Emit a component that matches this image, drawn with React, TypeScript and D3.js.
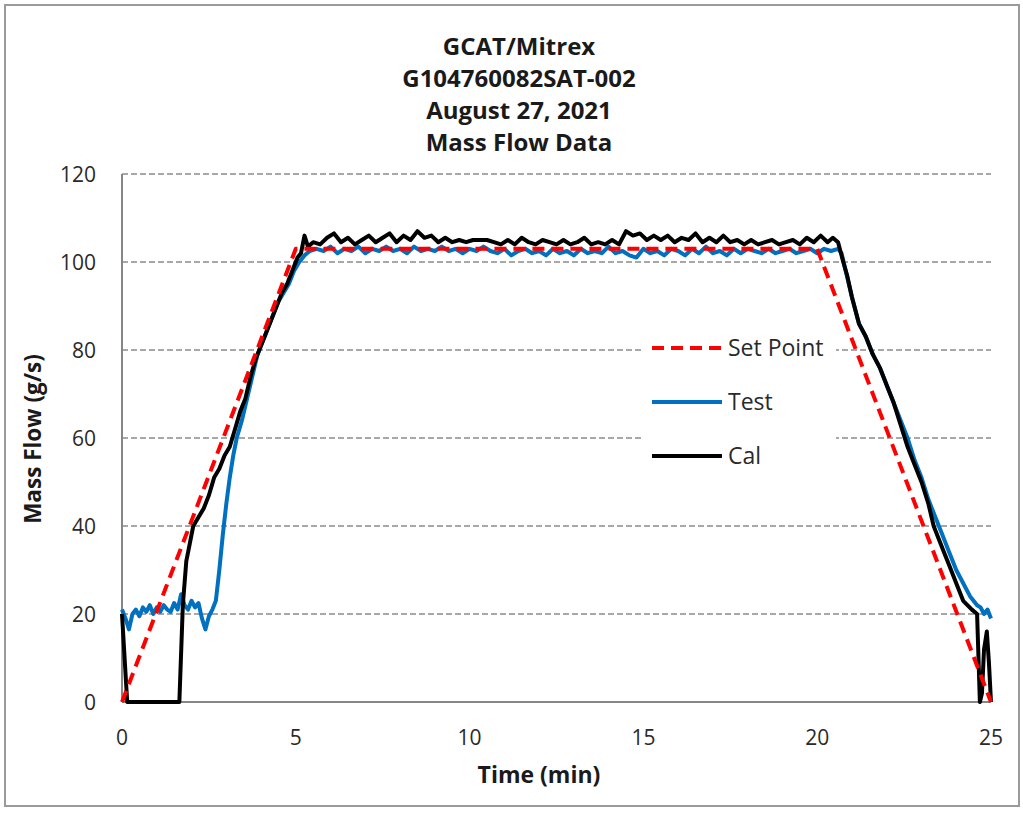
import React from "react";
import * as d3 from "d3";

const titleLines = ["GCAT/Mitrex", "G104760082SAT-002", "August 27, 2021", "Mass Flow Data"];
const xTicks = [0, 5, 10, 15, 20, 25];
const yTicks = [0, 20, 40, 60, 80, 100, 120];

const setPointData: [number, number][] = [[0, 0], [5, 103], [20, 103], [25, 0]];

const testData: [number, number][] = [
  [0, 21], [0.1, 19], [0.2, 16.5], [0.3, 20], [0.4, 21], [0.5, 19.5], [0.6, 21.5], [0.7, 20.5], [0.8, 22], [0.9, 20],
  [1.0, 21.5], [1.1, 20.5], [1.2, 22], [1.3, 21], [1.4, 20.5], [1.5, 22.5], [1.6, 21], [1.7, 24.5], [1.8, 22], [1.9, 21],
  [2.0, 23], [2.1, 21.5], [2.2, 22.5], [2.3, 19], [2.4, 16.5], [2.5, 19.5], [2.6, 21], [2.7, 23], [2.8, 30], [2.9, 38],
  [3.0, 45], [3.1, 51], [3.2, 56], [3.3, 60], [3.45, 64], [3.6, 69], [3.75, 74], [3.9, 79], [4.05, 82], [4.2, 85],
  [4.35, 88], [4.5, 91], [4.65, 93], [4.8, 95], [4.95, 98], [5.1, 100], [5.25, 101.5], [5.4, 102.5], [5.6, 103],
  [5.8, 102.5], [6.0, 103.5], [6.2, 102], [6.4, 103], [6.6, 102.5], [6.8, 103.5], [7.0, 102], [7.2, 103], [7.4, 102.5],
  [7.6, 103.5], [7.8, 102.5], [8.0, 103], [8.2, 102], [8.4, 103.5], [8.6, 102.5], [8.8, 103], [9.0, 102.5], [9.2, 103.5],
  [9.4, 102.5], [9.6, 103], [9.8, 102], [10.0, 103], [10.2, 102.5], [10.4, 103.5], [10.6, 102.5], [10.8, 102],
  [11.0, 103], [11.2, 101.5], [11.4, 102.5], [11.6, 103], [11.8, 102], [12.0, 102.5], [12.2, 101.5], [12.4, 103],
  [12.6, 102], [12.8, 102.5], [13.0, 101.5], [13.2, 103], [13.4, 102], [13.6, 102.5], [13.8, 102], [14.0, 103.5],
  [14.2, 102], [14.4, 102.5], [14.6, 101.5], [14.8, 101], [15.0, 103], [15.2, 102], [15.4, 102.5], [15.6, 101.5],
  [15.8, 103], [16.0, 102.5], [16.2, 101.5], [16.4, 103], [16.6, 102], [16.8, 103.5], [17.0, 102], [17.2, 102.5],
  [17.4, 101.5], [17.6, 103], [17.8, 102], [18.0, 103], [18.2, 102.5], [18.4, 102], [18.6, 103], [18.8, 102],
  [19.0, 102.5], [19.2, 103], [19.4, 102], [19.6, 102.5], [19.8, 103], [20.0, 102], [20.2, 103], [20.4, 102.5],
  [20.6, 103], [20.7, 102], [20.85, 97], [21.0, 92], [21.2, 86], [21.4, 83], [21.6, 79], [21.8, 76], [22.0, 72],
  [22.2, 68], [22.4, 64], [22.6, 60], [22.8, 55], [23.0, 51], [23.2, 46], [23.4, 42], [23.6, 38], [23.8, 34],
  [24.0, 30], [24.2, 27], [24.4, 24], [24.6, 22], [24.7, 21.5], [24.8, 20], [24.9, 21], [25.0, 19],
];

const calData: [number, number][] = [
  [0, 20], [0.15, 0], [1.65, 0], [1.75, 22], [1.85, 32], [1.95, 36], [2.05, 40], [2.2, 42], [2.35, 44], [2.5, 47],
  [2.65, 51], [2.8, 53], [2.95, 56], [3.1, 58], [3.25, 62], [3.4, 66], [3.55, 69], [3.7, 74], [3.85, 78], [4.0, 81],
  [4.15, 84], [4.3, 87], [4.45, 90], [4.6, 93], [4.75, 95], [4.9, 98], [5.05, 101], [5.15, 102], [5.25, 106],
  [5.35, 103.5], [5.5, 104.5], [5.7, 104], [5.9, 105.5], [6.1, 106.5], [6.3, 104.5], [6.5, 105.5], [6.7, 104],
  [6.9, 105], [7.1, 106], [7.3, 104.5], [7.5, 105.5], [7.7, 106.5], [7.9, 104.5], [8.1, 106], [8.3, 105], [8.5, 107],
  [8.7, 105.5], [8.9, 106], [9.1, 104.5], [9.3, 105.5], [9.5, 104.5], [9.7, 105], [9.9, 104.5], [10.1, 105],
  [10.3, 105], [10.5, 105], [10.7, 104.5], [10.9, 104], [11.1, 105], [11.3, 104], [11.5, 105.5], [11.7, 104.5],
  [11.9, 104], [12.1, 105], [12.3, 104.5], [12.5, 104], [12.7, 105], [12.9, 104], [13.1, 104.5], [13.3, 105.5],
  [13.5, 104], [13.7, 104.5], [13.9, 104], [14.1, 105], [14.3, 104], [14.5, 107], [14.7, 106], [14.9, 106.5],
  [15.1, 105], [15.3, 106], [15.5, 105], [15.7, 106], [15.9, 104.5], [16.1, 105.5], [16.3, 105], [16.5, 106.5],
  [16.7, 104.5], [16.9, 105.5], [17.1, 104.5], [17.3, 106], [17.5, 104.5], [17.7, 105], [17.9, 104], [18.1, 105],
  [18.3, 104], [18.5, 104.5], [18.7, 105], [18.9, 104], [19.1, 104.5], [19.3, 105], [19.5, 104], [19.7, 105.5],
  [19.9, 104.5], [20.1, 106], [20.3, 104.5], [20.45, 105.5], [20.6, 104.5], [20.75, 100], [20.86, 97], [21.0, 92],
  [21.2, 86], [21.4, 83], [21.6, 79], [21.8, 76], [22.0, 72], [22.2, 68], [22.4, 63], [22.6, 58], [22.8, 54],
  [23.0, 50], [23.2, 45], [23.35, 40], [23.5, 37], [23.65, 34], [23.8, 31], [24.0, 27], [24.2, 23], [24.45, 21],
  [24.6, 20], [24.68, 0], [24.74, 2], [24.8, 12], [24.88, 16], [24.94, 9], [25.0, 0],
];

const legendItems = [
  { label: "Set Point", color: "#FF0000", dash: "12,7", data: setPointData },
  { label: "Test", color: "#0070C0", dash: "", data: testData },
  { label: "Cal", color: "#000000", dash: "", data: calData },
];

const W = 1023;
const H = 813;
const left = 122, right = 991, top = 174, bottom = 702;
const FONT = "'Open Sans', 'Noto Sans', sans-serif";

export default function App() {
  const x = d3.scaleLinear().domain([0, 25]).range([left, right]);
  const y = d3.scaleLinear().domain([0, 120]).range([bottom, top]);
  const line = d3.line<[number, number]>().x((d) => x(d[0])).y((d) => y(d[1]));
  const drawOrder = [legendItems[1], legendItems[2], legendItems[0]];
  return (
    <svg width={W} height={H} style={{ position: "absolute", left: 0, top: 0, background: "#fff" }} fontFamily={FONT}>
      <rect x={0} y={0} width={W} height={H} fill="#fff" />
      <rect x={5} y={5} width={1014} height={801} fill="none" stroke="#9a9a9a" strokeWidth={2} />
      {titleLines.map((t, i) => (
        <text key={t} x={519} y={55 + i * 32} textAnchor="middle" fontSize={24} fontWeight="bold" fill="#1a1a1a">{t}</text>
      ))}
      {yTicks.slice(1).map((v) => (
        <line key={v} x1={left} x2={right} y1={y(v)} y2={y(v)} stroke="#8c8c8c" strokeWidth={1.3} strokeDasharray="6,3" />
      ))}
      <line x1={left} x2={left} y1={top} y2={bottom} stroke="#868686" strokeWidth={2} />
      <line x1={left} x2={right} y1={bottom} y2={bottom} stroke="#868686" strokeWidth={2} />
      {yTicks.map((v) => (
        <text key={v} x={96} y={y(v)} dy="0.36em" textAnchor="end" fontSize={21} fill="#2a2a2a">{v}</text>
      ))}
      {xTicks.map((v) => (
        <text key={v} x={x(v)} y={745} textAnchor="middle" fontSize={21} fill="#2a2a2a">{v}</text>
      ))}
      <text x={539} y={783} textAnchor="middle" fontSize={23} fontWeight="bold" fill="#1a1a1a">Time (min)</text>
      <text transform="translate(41,439) rotate(-90)" textAnchor="middle" fontSize={22.5} fontWeight="bold" fill="#1a1a1a">Mass Flow (g/s)</text>
      {drawOrder.map((s) => (
        <path key={s.label} d={line(s.data) || ""} fill="none" stroke={s.color} strokeWidth={4}
          strokeDasharray={s.dash || undefined} strokeLinejoin="round" />
      ))}
      <rect x={643} y={322} width={193} height={160} fill="#fff" />
      {legendItems.map((s, i) => (
        <g key={s.label} transform={`translate(652,${348 + i * 54})`}>
          <line x1={0} x2={70} y1={0} y2={0} stroke={s.color} strokeWidth={4} strokeDasharray={s.dash || undefined} />
          <text x={76} y={0} dy="0.36em" fontSize={23} fill="#2a2a2a">{s.label}</text>
        </g>
      ))}
    </svg>
  );
}
